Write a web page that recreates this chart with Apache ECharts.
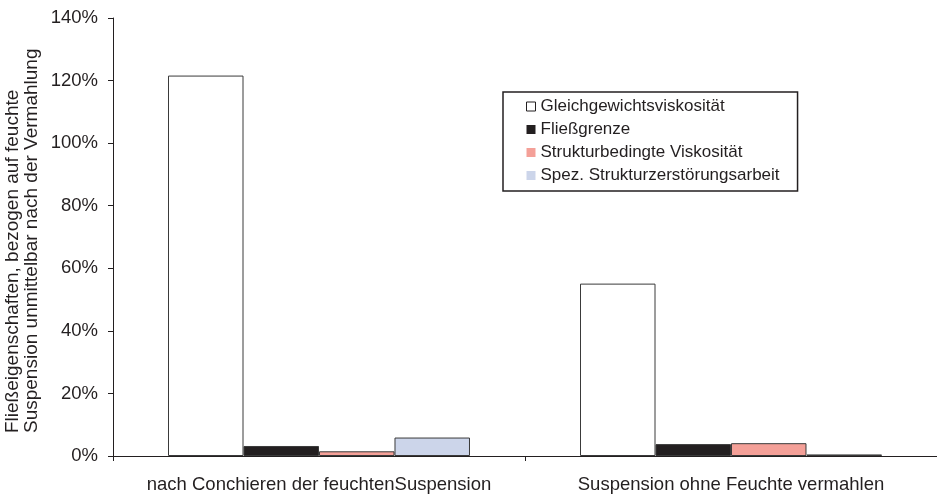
<!DOCTYPE html>
<html>
<head>
<meta charset="utf-8">
<script src="https://cdn.jsdelivr.net/npm/echarts@6/dist/echarts.min.js"></script>
<style>
  html, body { margin: 0; padding: 0; background: #fff; }
  #chart { width: 937px; height: 494px; }
</style>
</head>
<body>
<div id="chart"></div>
<script>
// Kategorien (Behandlung der Suspension)
const categories = ['nach Conchieren der feuchtenSuspension', 'Suspension ohne Feuchte vermahlen'];

// Fließeigenschaften in % (bezogen auf feuchte Suspension unmittelbar nach der Vermahlung)
const gleichgewichtsviskositaet = [121.6, 55.1];
const fliessgrenze = [3.2, 3.8];
const strukturViskositaet = [1.5, 4.1];
const strukturzerstoerungsarbeit = [5.9, 0.5];

const seriesNames = ['Gleichgewichtsviskosität', 'Fließgrenze', 'Strukturbedingte Viskosität', 'Spez. Strukturzerstörungsarbeit'];
const seriesColors = ['#ffffff', '#231f20', '#f4a098', '#ccd5ea'];
const seriesData = [gleichgewichtsviskositaet, fliessgrenze, strukturViskositaet, strukturzerstoerungsarbeit];

const yTicks = { min: 0, max: 140, interval: 20 };
const yTitle = ['Fließeigenschaften, bezogen auf feuchte', 'Suspension unmittelbar nach der Vermahlung'];

const font = "'Liberation Sans', Arial, sans-serif";
const textColor = '#231f20';

const chart = echarts.init(document.getElementById('chart'), null, { renderer: 'canvas' });

chart.setOption({
  animation: false,
  backgroundColor: '#ffffff',
  textStyle: { fontFamily: font },
  grid: { left: 113, top: 18, width: 830, height: 442, containLabel: false },
  legend: {
    orient: 'vertical',
    left: 503,
    top: 92,
    padding: [6, 18, 7, 23],
    itemWidth: 9,
    itemHeight: 9,
    itemGap: 6,
    borderColor: '#231f20',
    borderWidth: 1.5,
    backgroundColor: '#ffffff',
    icon: 'rect',
    textStyle: { fontFamily: font, fontSize: 17, color: textColor, padding: [0, 0, 0, 0] },
    data: [
      { name: seriesNames[0], itemStyle: { borderColor: '#231f20', borderWidth: 1 } },
      { name: seriesNames[1], itemStyle: { borderWidth: 0 } },
      { name: seriesNames[2], itemStyle: { borderWidth: 0 } },
      { name: seriesNames[3], itemStyle: { borderWidth: 0 } }
    ]
  },
  xAxis: {
    type: 'category',
    data: categories,
    axisLine: { lineStyle: { color: '#231f20', width: 1 } },
    axisTick: { show: true, length: 5, inside: false, lineStyle: { color: '#231f20' } },
    axisLabel: { fontFamily: font, fontSize: 18.5, color: textColor, margin: 19, interval: 0 },
    splitLine: { show: false }
  },
  yAxis: {
    type: 'value',
    min: yTicks.min,
    max: yTicks.max,
    interval: yTicks.interval,
    axisLine: { show: true, lineStyle: { color: '#231f20', width: 1 } },
    axisTick: { show: true, length: 5, lineStyle: { color: '#231f20' } },
    axisLabel: { fontFamily: font, fontSize: 18.5, color: textColor, margin: 15, formatter: '{value}%' },
    splitLine: { show: false }
  },
  graphic: yTitle.map((line, i) => ({
    type: 'text',
    x: 13 + i * 19,
    y: 433,
    rotation: Math.PI / 2,
    style: {
      text: line,
      font: '19px ' + font,
      fill: textColor,
      textAlign: 'left',
      textVerticalAlign: 'middle'
    }
  })),
  series: seriesNames.map((name, i) => ({
    name: name,
    type: 'bar',
    data: seriesData[i],
    barGap: '0%',
    barCategoryGap: '26.7%',
    itemStyle: {
      color: seriesColors[i],
      borderColor: '#3a3a3a',
      borderWidth: 1
    }
  }))
});
</script>
</body>
</html>
